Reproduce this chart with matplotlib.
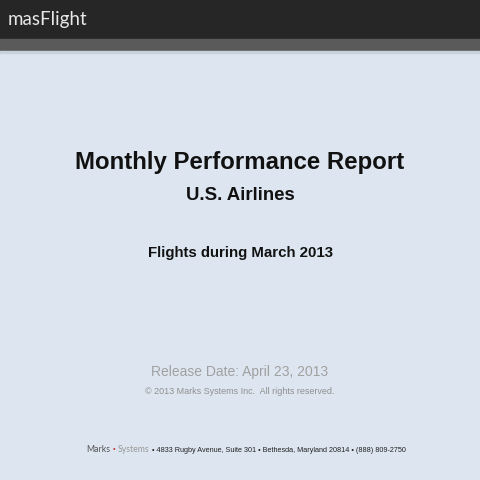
import matplotlib
matplotlib.use("Agg")
import matplotlib.pyplot as plt
from matplotlib.patches import Rectangle

logo = "masFlight"
title = "Monthly Performance Report"
subtitle = "U.S. Airlines"
period = "Flights during March 2013"
release = "Release Date: April 23, 2013"
copyright_txt = "© 2013 Marks Systems Inc.  All rights reserved."
footer_a = "Marks"
footer_b = "Systems"
footer_c = "• 4833 Rugby Avenue, Suite 301 • Bethesda, Maryland 20814 • (888) 809-2750"

fam = ["Liberation Sans", "DejaVu Sans"]
fig = plt.figure(figsize=(4.8, 4.8), dpi=100)
fig.patch.set_facecolor("#dde6f0")
ax = fig.add_axes([0, 0, 1, 1])
ax.set_xlim(0, 480); ax.set_ylim(480, 0); ax.axis("off")
ax.add_patch(Rectangle((0, 0), 480, 39, color="#262626"))
ax.add_patch(Rectangle((0, 39), 480, 12, color="#5a5a5a"))
ax.add_patch(Rectangle((0, 51), 480, 2, color="#c8d2dc"))
ax.text(8, 20, logo, color="#e8e8e8", fontsize=13.5, va="center", family=["Lato", "DejaVu Sans"])
ax.text(240, 163, title, ha="center", va="center", fontsize=17.3, weight="bold", family=fam, color="#111")
ax.text(240, 196, subtitle, ha="center", va="center", fontsize=13.4, weight="bold", family=fam, color="#111")
ax.text(240, 253, period, ha="center", va="center", fontsize=10.8, weight="bold", family=fam, color="#111")
ax.text(240, 372, release, ha="center", va="center", fontsize=10, family=fam, color="#a0a0a0")
ax.text(240, 392, copyright_txt, ha="center", va="center", fontsize=6.5, family=fam, color="#909090")

fig.canvas.draw()
r = fig.canvas.get_renderer()
x = 86
for s, fs, col, f in [(footer_a, 6.3, "#555", ["Lato", "DejaVu Sans"]),
                      ("•", 5.5, "#c04040", fam),
                      (footer_b, 6.3, "#999", ["Lato", "DejaVu Sans"]),
                      (footer_c, 5.2, "#222", fam)]:
    t = ax.text(x, 450, s, va="center", fontsize=fs, family=f, color=col)
    bb = t.get_window_extent(r)
    x += bb.width + 2.5
fig.savefig("out.png", dpi=100, facecolor=fig.get_facecolor())
